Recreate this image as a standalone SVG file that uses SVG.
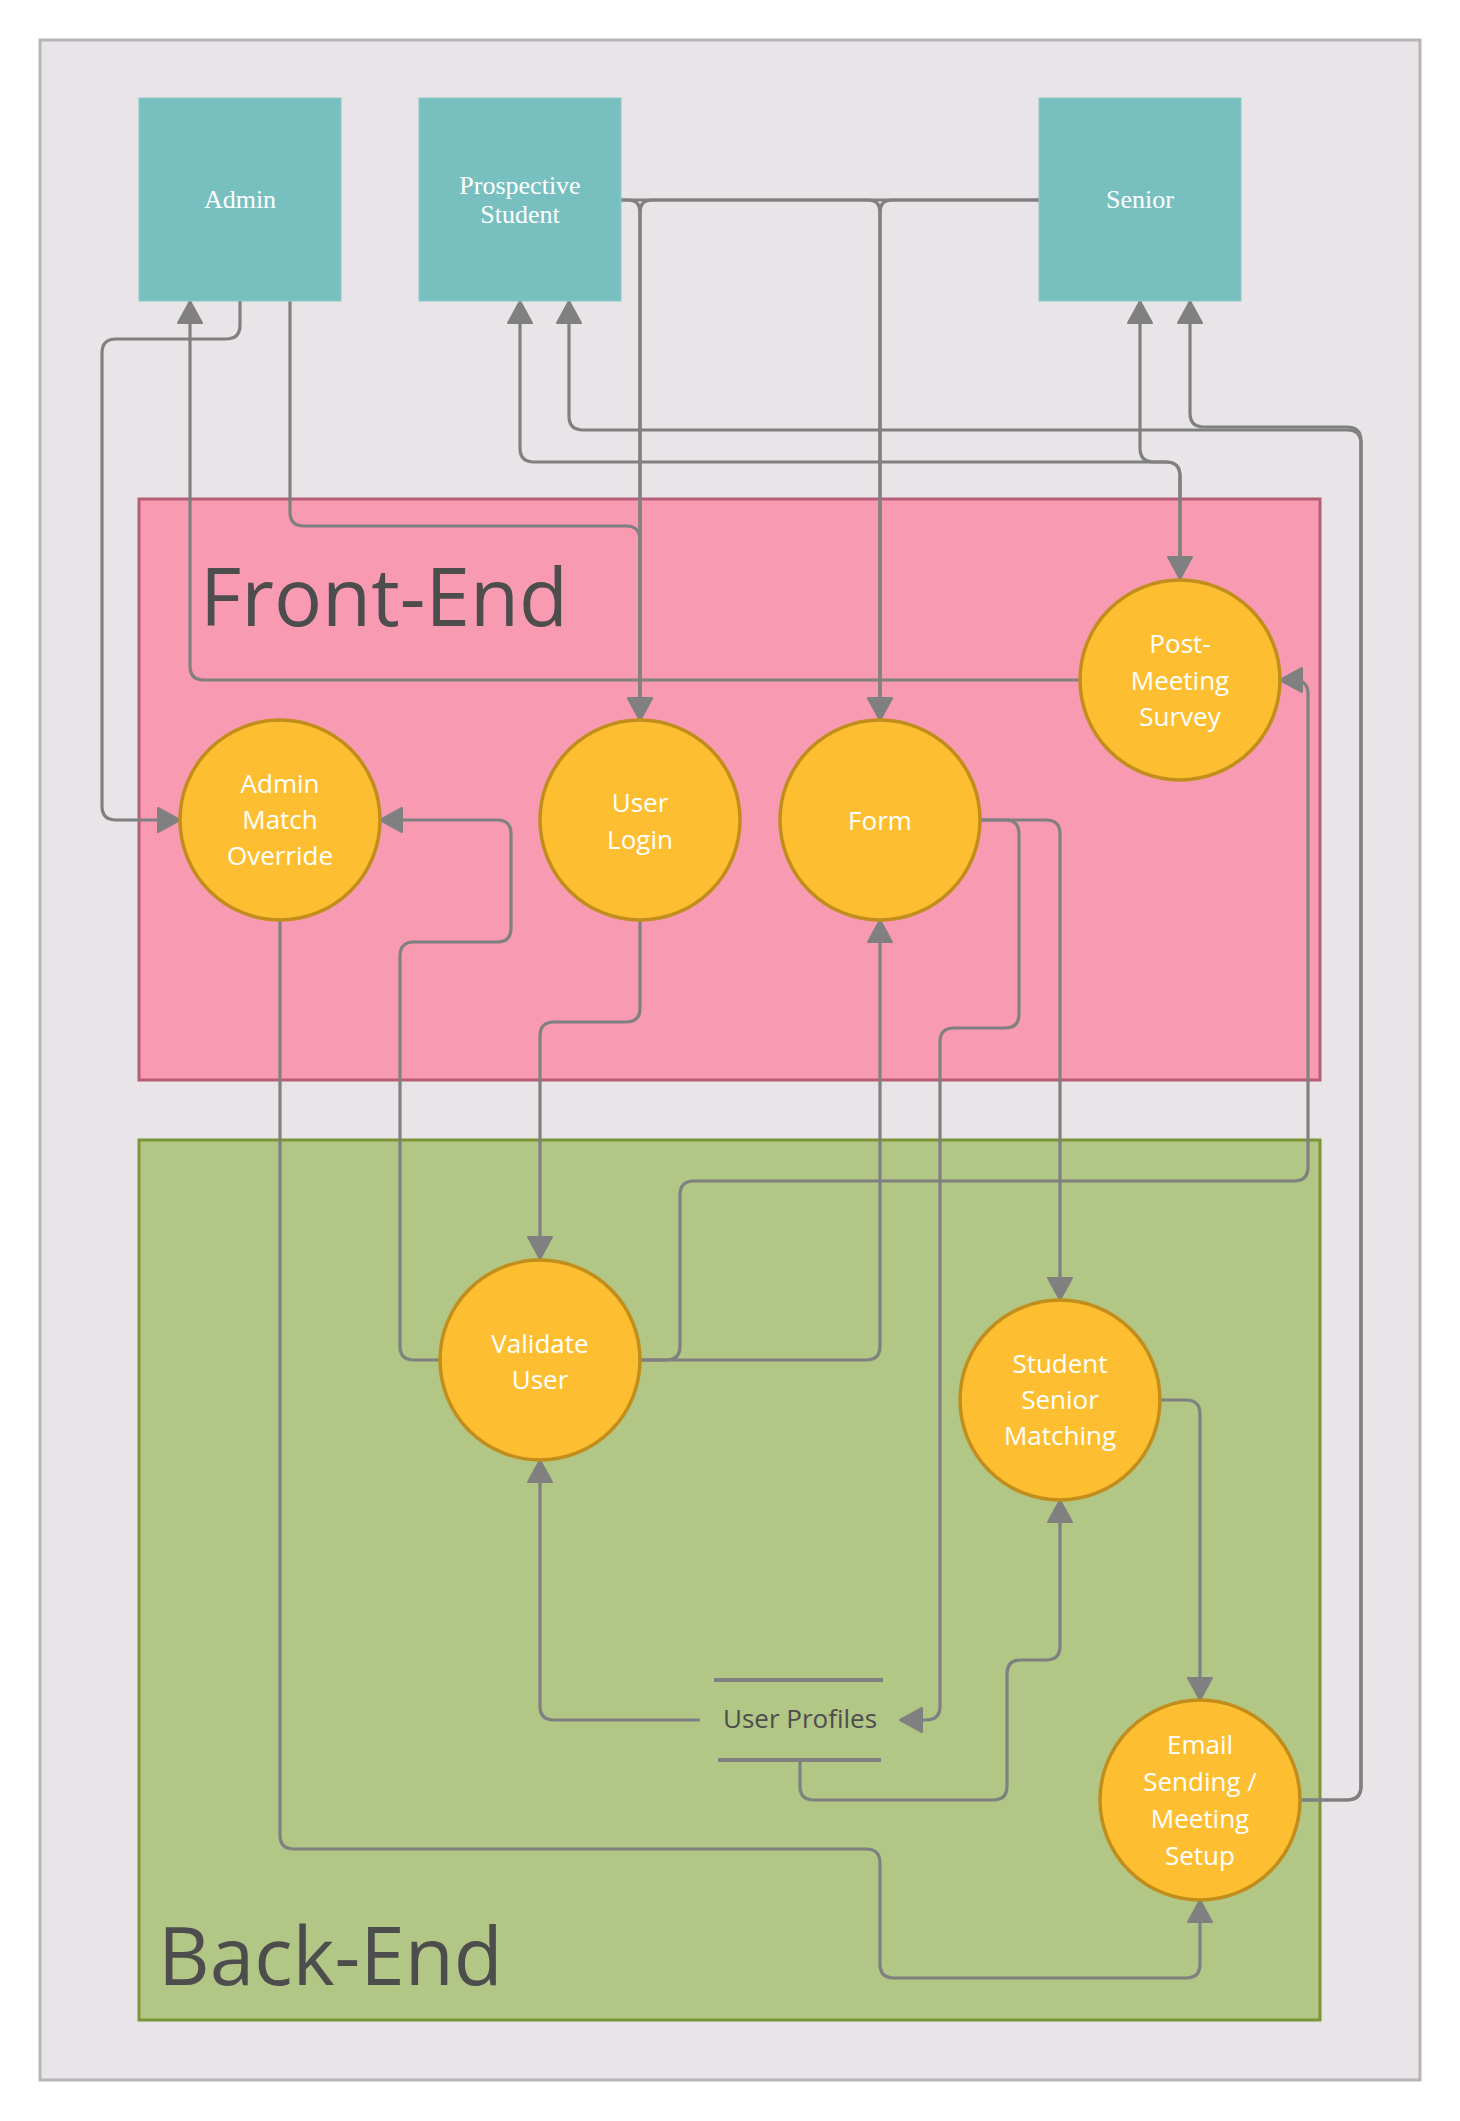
<svg xmlns="http://www.w3.org/2000/svg" width="1460" height="2121" viewBox="0 0 1460 2121">
<style>
.ent{fill:#78c0bf;stroke:#8cc9c8;stroke-width:1}
.entt{font-family:"Liberation Serif",serif;font-size:26px;fill:#ffffff;text-anchor:middle}
.proc{fill:#fdbf31;stroke:#c18e1c;stroke-width:3.5}
.proct{font-family:"Open Sans","Noto Sans",sans-serif;font-size:26px;fill:#ffffff;text-anchor:middle}
.grpt{font-family:"Open Sans","Noto Sans",sans-serif;font-size:80px;fill:#4d4d4d}
.con{fill:none;stroke:#808080;stroke-width:3.2}
.ds{stroke:#808080;stroke-width:4}
</style>
<defs>
<marker id="arr" markerUnits="userSpaceOnUse" markerWidth="26" markerHeight="30" viewBox="-2 -15 26 30" refX="22" refY="0" orient="auto-start-reverse">
<path d="M0,-12 L22,0 L0,12 Z" fill="#808080" stroke="#808080" stroke-width="2" stroke-linejoin="round"/>
</marker>
</defs>
<rect x="40" y="40" width="1380" height="2040" fill="#e8e4e8" stroke="#b7b5b7" stroke-width="3"/>
<g id="front-end">
<rect x="139" y="499" width="1181" height="581" fill="#f89ab1" stroke="#b65e74" stroke-width="3"/>
<text class="grpt" x="200" y="626">Front-End</text>
</g>
<g id="back-end">
<rect x="139" y="1140" width="1181" height="880" fill="#b2c686" stroke="#7b9537" stroke-width="3"/>
<text class="grpt" x="158" y="1985">Back-End</text>
</g>
<g id="connectors">
<path class="con" marker-end="url(#arr)" d="M240,301 V325 Q240,339 226,339 H116 Q102,339 102,353 V806 Q102,820 116,820 H180"/>
<path class="con" marker-end="url(#arr)" d="M1080,680 H204 Q190,680 190,666 V301"/>
<path class="con" marker-end="url(#arr)" d="M290,301 V512 Q290,526 304,526 H626 Q640,526 640,540 V720"/>
<path class="con" marker-end="url(#arr)" d="M619,200 H628 Q640,200 640,212 V720"/>
<path class="con" marker-end="url(#arr)" d="M1039,200 H652 Q640,200 640,212 V720"/>
<path class="con" marker-end="url(#arr)" d="M619,200 H868 Q880,200 880,212 V720"/>
<path class="con" marker-end="url(#arr)" d="M1039,200 H892 Q880,200 880,212 V720"/>
<path class="con" marker-start="url(#arr)" marker-end="url(#arr)" d="M520,301 V448 Q520,462 534,462 H1166 Q1180,462 1180,476 V579"/>
<path class="con" marker-start="url(#arr)" d="M1140,301 V448 Q1140,462 1154,462 H1166 Q1180,462 1180,476 V579"/>
<path class="con" marker-end="url(#arr)" d="M1300,1800 H1347 Q1361,1800 1361,1786 V444 Q1361,430 1347,430 H583 Q569,430 569,416 V301"/>
<path class="con" marker-end="url(#arr)" d="M1300,1800 H1347 Q1361,1800 1361,1786 V441 Q1361,427 1347,427 H1204 Q1190,427 1190,413 V301"/>
<path class="con" marker-end="url(#arr)" d="M980,820 H1005 Q1019,820 1019,834 V1014 Q1019,1028 1005,1028 H954 Q940,1028 940,1042 V1706 Q940,1720 926,1720 H900"/>
<path class="con" marker-end="url(#arr)" d="M980,820 H1046 Q1060,820 1060,834 V1300"/>
<path class="con" marker-end="url(#arr)" d="M640,920 V1008 Q640,1022 626,1022 H554 Q540,1022 540,1036 V1259"/>
<path class="con" marker-end="url(#arr)" d="M440,1360 H414 Q400,1360 400,1346 V956 Q400,942 414,942 H497 Q511,942 511,928 V834 Q511,820 497,820 H380"/>
<path class="con" marker-end="url(#arr)" d="M640,1360 H666 Q680,1360 680,1346 V1195 Q680,1181 694,1181 H1294 Q1308,1181 1308,1167 V694 Q1308,680 1294,680 H1280"/>
<path class="con" marker-end="url(#arr)" d="M640,1360 H866 Q880,1360 880,1346 V920"/>
<path class="con" marker-end="url(#arr)" d="M700,1720 H554 Q540,1720 540,1706 V1460"/>
<path class="con" marker-end="url(#arr)" d="M800,1760 V1786 Q800,1800 814,1800 H993 Q1007,1800 1007,1786 V1674 Q1007,1660 1021,1660 H1046 Q1060,1660 1060,1646 V1500"/>
<path class="con" marker-end="url(#arr)" d="M1160,1400 H1186 Q1200,1400 1200,1414 V1700"/>
<path class="con" marker-end="url(#arr)" d="M280,920 V1835 Q280,1849 294,1849 H866 Q880,1849 880,1863 V1964 Q880,1978 894,1978 H1186 Q1200,1978 1200,1964 V1900"/>
</g>
<g id="admin">
<rect class="ent" x="139" y="98" width="202" height="203"/>
<text class="entt" x="240" y="208">Admin</text>
</g>
<g id="prospective-student">
<rect class="ent" x="419" y="98" width="202" height="203"/>
<text class="entt" x="520" y="194">Prospective</text>
<text class="entt" x="520" y="223">Student</text>
</g>
<g id="senior">
<rect class="ent" x="1039" y="98" width="202" height="203"/>
<text class="entt" x="1140" y="208">Senior</text>
</g>
<g id="admin-match-override">
<circle class="proc" cx="280" cy="820" r="100"/>
<text class="proct" x="280" y="793">Admin</text>
<text class="proct" x="280" y="829">Match</text>
<text class="proct" x="280" y="865">Override</text>
</g>
<g id="user-login">
<circle class="proc" cx="640" cy="820" r="100"/>
<text class="proct" x="640" y="812">User</text>
<text class="proct" x="640" y="849">Login</text>
</g>
<g id="form">
<circle class="proc" cx="880" cy="820" r="100"/>
<text class="proct" x="880" y="830">Form</text>
</g>
<g id="post-meeting-survey">
<circle class="proc" cx="1180" cy="680" r="100"/>
<text class="proct" x="1180" y="653">Post-</text>
<text class="proct" x="1180" y="690">Meeting</text>
<text class="proct" x="1180" y="726">Survey</text>
</g>
<g id="validate-user">
<circle class="proc" cx="540" cy="1360" r="100"/>
<text class="proct" x="540" y="1353">Validate</text>
<text class="proct" x="540" y="1389">User</text>
</g>
<g id="student-senior-matching">
<circle class="proc" cx="1060" cy="1400" r="100"/>
<text class="proct" x="1060" y="1373">Student</text>
<text class="proct" x="1060" y="1409">Senior</text>
<text class="proct" x="1060" y="1445">Matching</text>
</g>
<g id="email-sending">
<circle class="proc" cx="1200" cy="1800" r="100"/>
<text class="proct" x="1200" y="1754">Email</text>
<text class="proct" x="1200" y="1791">Sending /</text>
<text class="proct" x="1200" y="1828">Meeting</text>
<text class="proct" x="1200" y="1865">Setup</text>
</g>
<g id="user-profiles">
<line class="ds" x1="714" y1="1680" x2="883" y2="1680"/>
<line class="ds" x1="718" y1="1760" x2="881" y2="1760"/>
<text x="800" y="1728" font-family="'Open Sans','Noto Sans',sans-serif" font-size="26" fill="#4d4d4d" text-anchor="middle">User Profiles</text>
</g>
</svg>
